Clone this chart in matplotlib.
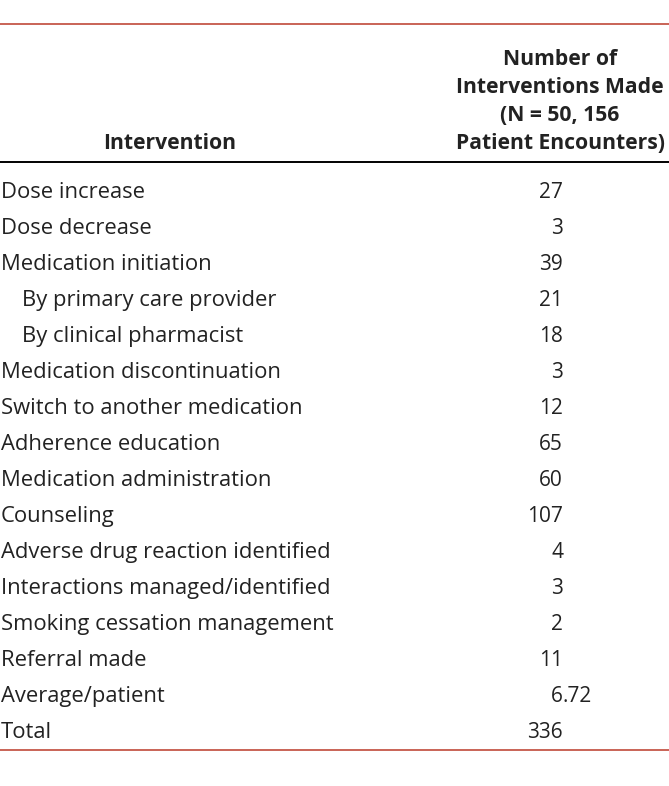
import matplotlib
matplotlib.use("Agg")
import matplotlib.pyplot as plt

# datos de la tabla
interventions = ["Dose increase", "Dose decrease", "Medication initiation",
                 "By primary care provider", "By clinical pharmacist",
                 "Medication discontinuation", "Switch to another medication",
                 "Adherence education", "Medication administration", "Counseling",
                 "Adverse drug reaction identified", "Interactions managed/identified",
                 "Smoking cessation management", "Referral made",
                 "Average/patient", "Total"]
counts = ["27", "3", "39", "21", "18", "3", "12", "65", "60", "107",
          "4", "3", "2", "11", "6.72", "336"]
indented = [False, False, False, True, True, False, False, False, False, False,
            False, False, False, False, False, False]
header_left = "Intervention"
header_right = ["Number of", "Interventions Made", "(N = 50, 156", "Patient Encounters)"]

plt.rcParams['font.family'] = ['Open Sans', 'DejaVu Sans']
red = '#c0493a'
txt = '#222222'

fig = plt.figure(figsize=(6.69, 7.86), dpi=100)
ax = fig.add_axes([0, 0, 1, 1])
ax.set_xlim(0, 669)
ax.set_ylim(786, 0)
ax.axis('off')

# lineas
ax.hlines(24, 0, 669, color=red, lw=1.2)
ax.hlines(162, 0, 669, color='black', lw=1.4)
ax.hlines(750, 0, 669, color=red, lw=1.2)

# encabezado
ax.text(170, 149, header_left, ha='center', va='baseline', fontsize=15.2, fontweight='bold', color=txt)
for i, line in enumerate(header_right):
    ax.text(560, 65 + i * 28, line, ha='center', va='baseline', fontsize=15.2, fontweight='bold', color=txt)

# filas
y0, dy = 198, 36
for i, (name, val) in enumerate(zip(interventions, counts)):
    y = y0 + i * dy
    x = 22 if indented[i] else 1
    ax.text(x, y, name, ha='left', va='baseline', fontsize=15.8, color=txt)
    if '.' in val:
        # alineado por el punto decimal
        ent, dec = val.split('.')
        ax.text(563, y, ent, ha='right', va='baseline', fontsize=15, color=txt)
        ax.text(563, y, '.' + dec, ha='left', va='baseline', fontsize=15, color=txt)
    else:
        ax.text(563, y, val, ha='right', va='baseline', fontsize=15, color=txt)

fig.savefig("out.png", dpi=100)
